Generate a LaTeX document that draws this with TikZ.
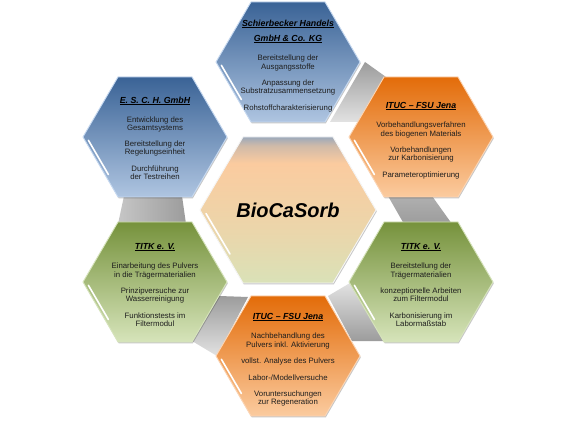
\documentclass[tikz,border=0pt]{standalone}
\usepackage{fontspec}
\setmainfont{Liberation Sans}
\usetikzlibrary{shadows}
\definecolor{txt}{HTML}{1E1E1E}
\definecolor{bluetop}{HTML}{3A6396}
\definecolor{bluebot}{HTML}{AFC5E1}
\definecolor{blueedge}{HTML}{C6D9F1}
\definecolor{orangetop}{HTML}{E36C09}
\definecolor{orangebot}{HTML}{FBCB9F}
\definecolor{orangeedge}{HTML}{FCD5B4}
\definecolor{greentop}{HTML}{76923C}
\definecolor{greenbot}{HTML}{D6E4BA}
\definecolor{greenedge}{HTML}{D7E4BD}
\definecolor{gapdark}{HTML}{9C9C9C}
\definecolor{gaplight}{HTML}{E2E2E2}
\pgfdeclareverticalshading{bioshade}{100bp}{color(0bp)=(greenbot); color(25bp)=(greenbot!90!orangebot); color(42bp)=(orangebot!55!greenbot); color(58bp)=(orangebot!85!greenbot); color(66bp)=(orangebot); color(72bp)=(orangebot!70!bluebot!80!gray); color(75bp)=(bluebot!60!gray); color(100bp)=(bluebot!60!gray)}
\newcommand{\uln}[1]{\underline{#1}}
\def\outerhexpath{(-72,0) -- (-37,-60) -- (37,-60) -- (72,0) -- (37,60) -- (-37,60) -- cycle}
\def\centerhexpath{(-88,0) -- (-45,-73) -- (45,-73) -- (88,0) -- (45,73) -- (-45,73) -- cycle}
\tikzset{
  hexbase/.style={line width=0.9pt, drop shadow={shadow xshift=0.8pt, shadow yshift=-1.4pt, opacity=0.22, fill=black}},
  bluehex/.style={hexbase, draw=blueedge, top color=bluetop, bottom color=bluebot},
  orangehex/.style={hexbase, draw=orangeedge, top color=orangetop, bottom color=orangebot},
  greenhex/.style={hexbase, draw=greenedge, top color=greentop, bottom color=greenbot},
  biohex/.style={hexbase, draw=white!92!gray, shading=bioshade},
  gloss/.style={draw=white, line width=1.6pt, line cap=round},
  gapband/.style={draw=none},
  title/.style={anchor=base, inner sep=0pt, font=\fontsize{8.8}{10}\selectfont\bfseries\itshape, text=black},
  body/.style={anchor=north, inner sep=0pt, align=center, font=\fontsize{7.8}{8}\selectfont, text=txt},
}
\begin{document}
\begin{tikzpicture}[x=1pt, y=-1pt]
\useasboundingbox (0,0) rectangle (576,422);
\fill[white] (0,0) rectangle (576,422);

% grey connecting bands
\path[gapband, top color=gapdark, bottom color=gaplight] (365,62) -- (386,77) -- (359,122) -- (330,122) -- cycle;
\path[gapband, left color=gaplight!60!gapdark, right color=gapdark] (124,196) -- (182,196) -- (186,224) -- (118,224) -- cycle;
\path[gapband, top color=gapdark!80, bottom color=gapdark] (388,196) -- (432,196) -- (452,224) -- (404,224) -- cycle;
\path[gapband, top color=gapdark, bottom color=gaplight] (219,296) -- (248,297) -- (217,356) -- (192,341) -- cycle;
\path[gapband, top color=gaplight, bottom color=gapdark] (350,283) -- (386,341) -- (352,341) -- (328,296) -- cycle;

% hexagons
\begin{scope}[shift={(288,62)}]
  \path[bluehex] \outerhexpath;
  \draw[gloss] (-66.6,3.3) -- (-46.6,37.5);
\end{scope}
\begin{scope}[shift={(155,137)}]
  \path[bluehex] \outerhexpath;
  \draw[gloss] (-66.6,3.3) -- (-46.6,37.5);
\end{scope}
\begin{scope}[shift={(421,137)}]
  \path[orangehex] \outerhexpath;
  \draw[gloss] (-66.6,3.3) -- (-46.6,37.5);
\end{scope}
\begin{scope}[shift={(155,282)}]
  \path[greenhex] \outerhexpath;
  \draw[gloss] (-66.6,3.3) -- (-46.6,37.5);
\end{scope}
\begin{scope}[shift={(421,282)}]
  \path[greenhex] \outerhexpath;
  \draw[gloss] (-66.6,3.3) -- (-46.6,37.5);
\end{scope}
\begin{scope}[shift={(288,356)}]
  \path[orangehex] \outerhexpath;
  \draw[gloss] (-66.6,3.3) -- (-46.6,37.5);
\end{scope}
\begin{scope}[shift={(288,210)}]
  \path[biohex] \centerhexpath;
  \draw[gloss] (-82,3.5) -- (-58,44);
\end{scope}

% texts
\node[font=\fontsize{20}{24}\selectfont\bfseries\itshape, text=black] (bio) at (288,210) {BioCaSorb};

\node[title] (t1a) at (288,26.2) {\uln{Schierbecker Handels}};
\node[title] (t1b) at (288,41.2) {\uln{GmbH \& Co. KG}};
\node[body] (b1) at (288,54.2) {\strut Bereitstellung der\\Ausgangsstoffe\\[8.6pt]Anpassung der\\Substratzusammensetzung\\[8.6pt]Rohstoffcharakterisierung};

\node[title] (t2) at (155,103.2) {\uln{E. S. C. H. GmbH}};
\node[body] (b2) at (155,116.2) {\strut Entwicklung des\\Gesamtsystems\\[8.6pt]Bereitstellung der\\Regelungseinheit\\[8.6pt]Durchführung\\der Testreihen};

\node[title] (t3) at (421,108.2) {\uln{ITUC – FSU Jena}};
\node[body] (b3) at (421,121.2) {\strut Vorbehandlungsverfahren\\des biogenen Materials\\[8.6pt]Vorbehandlungen\\zur Karbonisierung\\[8.6pt]Parameteroptimierung};

\node[title] (t4) at (155,249.2) {\uln{TITK e. V.}};
\node[body] (b4) at (155,262.2) {\strut Einarbeitung des Pulvers\\in die Trägermaterialien\\[8.6pt]Prinzipversuche zur\\Wasserreinigung\\[8.6pt]Funktionstests im\\Filtermodul};

\node[title] (t5) at (421,249.2) {\uln{TITK e. V.}};
\node[body] (b5) at (421,262.2) {\strut Bereitstellung der\\Trägermaterialien\\[8.6pt]konzeptionelle Arbeiten\\zum Filtermodul\\[8.6pt]Karbonisierung im\\Labormaßstab};

\node[title] (t6) at (288,319.2) {\uln{ITUC – FSU Jena}};
\node[body] (b6) at (288,332.2) {\strut Nachbehandlung des\\Pulvers inkl. Aktivierung\\[8.6pt]vollst. Analyse des Pulvers\\[8.6pt]Labor-/Modellversuche\\[8.6pt]Voruntersuchungen\\zur Regeneration};
\end{tikzpicture}
\end{document}
